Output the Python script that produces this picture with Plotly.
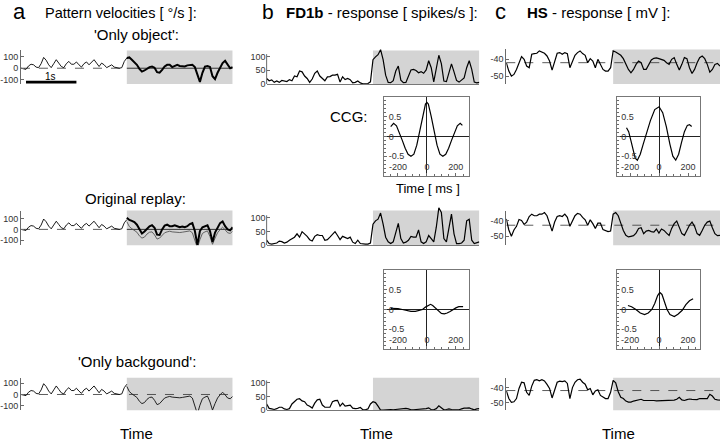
import numpy as np
import plotly.graph_objects as go

W, H = 720, 443
FONT = "Liberation Sans, Arial, sans-serif"

# ---------------- data ----------------
t_pre = np.round(np.arange(0, 2.1001, 0.05), 3)      # before switch
t_post = np.round(np.arange(2.1, 4.2001, 0.05), 3)   # after switch (grey)
t_full = np.round(np.arange(0, 4.2001, 0.05), 3)
t_switch, t_end = 2.1, 4.2

# Pattern velocities (deg/s)
a_pre = [0, -5, -10, 20, 35, 30, 10, 5, 40, 95, 70, 30, 5, 40, 75, 45, 15, 5, 40, 60,
         35, 35, 55, 30, 10, 40, 55, 30, 50, 75, 45, 15, 45, 30, 5, 20, 30, 10, 5, 0,
         5, 60, 90]
a_obj_top = [90, 95, 75, 55, 30, -5, -30, -20, -5, 10, 15, 5, -35, -40, -15, 15, 30, 30, 10, 20,
             30, 20, 15, 15, 25, 30, 30, 10, -60, -120, -40, 15, 20, 10, -70, -95, -40, 10, 45, 65,
             35, 0, 10]
a_obj_mid = [107, 87, 78, 67, 43, 0, -38, -20, 9, 29, 38, 15, -49, -52, 0, 35, 43, 29, 29, 38,
             29, 20, 26, 20, 29, 49, 58, -15, -145, -15, 20, 29, 38, -15, -116, -29, 20, 58, 73, 29,
             0, -9, 20]
a_bg = [71, 26, 6, -9, -26, -60, -80, -71, -43, -26, -23, -51, -89, -80, -51, -31, -23, -17, -23, -26,
        -29, -29, -26, -23, -17, -14, -31, -94, -171, -94, -37, -23, -14, -66, -137, -80, -31, -3, 20, -3,
        -31, -37, -17]

# FD1b response (spikes/s)
b_top = [20, 12, 15, 6, 11, 6, 13, 11, 9, 16, 12, 29, 26, 47, 44, 29, 20, 6, 18, 39,
         47, 29, 21, 12, 26, 27, 32, 32, 35, 7, 26, 16, 20, 16, 4, 6, 11, 4, 1, 1,
         2, 8, 88, 98, 106, 124, 88, 32, 6, 5, 12, 47, 65, 14, 5, 6, 29, 51, 53, 49,
         41, 45, 39, 51, 84, 59, 8, 59, 104, 74, 11, 9, 39, 73, 44, 13, 7, 13, 22, 59,
         84, 53, 7, 4, 6]
b_mid = [18, 6, 4, 6, 8, 15, 13, 8, 11, 18, 25, 29, 41, 29, 49, 41, 32, 20, 15, 32,
         38, 35, 35, 18, 20, 29, 41, 49, 35, 20, 32, 27, 24, 29, 11, 6, 18, 6, 4, 4,
         4, 8, 76, 88, 94, 116, 76, 29, 12, 6, 12, 51, 79, 24, 8, 11, 18, 32, 29, 29,
         55, 12, 6, 12, 35, 24, 12, 65, 135, 118, 24, 12, 59, 112, 41, 6, 6, 8, 18, 88,
         94, 18, 6, 8, 12]
b_bot = [23, 7, 5, 3, 6, 11, 11, 5, 3, 6, 23, 31, 40, 42, 34, 31, 19, 15, 8, 26,
         38, 40, 19, 11, 11, 11, 31, 35, 36, 15, 26, 15, 17, 19, 8, 6, 7, 10, 2, 2,
         5, 23, 31, 28, 15, 1, 1, 2, 3, 3, 2, 3, 5, 6, 7, 7, 5, 2, 2, 3,
         2, 3, 5, 6, 9, 2, 2, 6, 16, 8, 2, 3, 5, 3, 2, 2, 2, 5, 8, 8,
         9, 5, 2, 5, 6]

# HS response (mV)
c_top = [-42, -47, -50, -49, -46, -41.6, -38.4, -40, -44, -45, -37, -36.6, -36.4, -35, -35.6, -36.4, -38, -41, -46.4, -41,
         -36.4, -36, -37, -36, -36.6, -45, -41, -37.6, -36, -35, -36.6, -37.6, -42, -39.6, -41, -45, -40, -43, -46, -47,
         -47, -45, -35, -35.6, -36.4, -37.6, -39.6, -43, -46, -48, -46, -43, -41, -42, -46, -46, -43, -40.4, -39.4, -39.2,
         -39.6, -40, -40.6, -42, -43, -40, -39, -43, -46.4, -43, -39, -39.6, -45, -48.4, -46, -42, -39, -38, -39.6, -43,
         -47.6, -46, -43, -42.4, -44]
c_mid = [-39, -46, -50, -46, -43.7, -39.4, -40, -42.5, -41, -37.5, -36, -37, -37, -36, -36, -35, -37, -42, -46.7, -41,
         -37.5, -37, -37.5, -36, -38, -43.7, -40, -37, -35.5, -36, -38, -39.6, -43, -39.6, -42, -45, -41.7, -41.7, -45.8, -46.3,
         -47, -46.7, -36, -35, -37, -41.7, -46.3, -49.4, -50.4, -50, -49.6, -48, -45, -44.6, -48.3, -46.7, -46.3, -47, -47.3, -45.4,
         -48, -45.4, -46.3, -48, -49.4, -45, -42, -40.4, -44, -48.3, -49.4, -46.3, -43, -41, -43.7, -48.3, -49.4, -46.3, -43, -41,
         -40.4, -44.6, -48.3, -49.6, -49.4]
c_bot = [-42.1, -47.4, -50, -49.6, -47.4, -40.6, -36.4, -36.8, -43.2, -45.3, -39, -35.1, -34.7, -35.5, -34.7, -35.5, -37.9, -40.6, -47, -41.5,
         -36.4, -35.7, -36, -35.5, -37.2, -47.4, -40, -36.4, -34.7, -34.3, -36.4, -37.7, -41.5, -40.6, -44.9, -42.3, -41.5, -45.3, -46.6, -47.4,
         -47.4, -43.2, -35.1, -36.8, -42.8, -46.6, -47.4, -49.1, -49.8, -49.8, -49.1, -48.7, -48.3, -47.9, -48.7, -48.7, -48.3, -48.5, -48.7, -48.9,
         -48.9, -48.9, -48.9, -48.9, -48.9, -48.7, -48.5, -47.9, -46.6, -48.3, -48.7, -48.1, -47.7, -47.9, -47.9, -48.1, -47.4, -47.2, -47.4, -47.4,
         -44.5, -45.7, -47.9, -48.3, -48.5]
c_rest = [-42, -43, -42]

# Cross-correlograms (lag in ms, coefficient)
ccg_b1_lag = [-250, -230, -210, -190, -170, -150, -130, -110, -90, -70, -50, -30, -10, 0,
              10, 30, 50, 70, 90, 110, 130, 150, 170, 190, 210, 230, 245]
ccg_b1_val = [0.25, 0.33, 0.27, 0.1, -0.1, -0.3, -0.45, -0.5, -0.45, -0.22, 0.12, 0.5, 0.82, 0.86,
              0.82, 0.5, 0.12, -0.22, -0.45, -0.5, -0.45, -0.3, -0.1, 0.1, 0.27, 0.33, 0.28]
ccg_b2_lag = [-250, -230, -200, -170, -140, -110, -80, -50, -30, -10, 10, 25, 40, 60,
              80, 100, 120, 140, 160, 180, 200, 220, 240, 250]
ccg_b2_val = [0.03, 0.03, 0.02, 0.0, -0.03, -0.05, -0.05, -0.03, 0.0, 0.06, 0.11, 0.13, 0.1, 0.03,
              -0.05, -0.1, -0.11, -0.09, -0.05, 0.0, 0.04, 0.07, 0.08, 0.07]
ccg_c1_lag = [-225, -210, -195, -180, -165, -150, -130, -110, -90, -60, -30, 0, 25, 50,
              75, 95, 115, 135, 155, 175, 195, 210, 225]
ccg_c1_val = [0.22, 0.12, -0.1, -0.35, -0.55, -0.6, -0.45, -0.2, 0.05, 0.4, 0.68, 0.75, 0.6, 0.25,
              -0.2, -0.5, -0.6, -0.45, -0.15, 0.12, 0.28, 0.3, 0.25]
ccg_c2_lag = [-215, -190, -160, -130, -100, -75, -50, -30, -10, 5, 20, 40, 55, 75,
              105, 130, 160, 185, 210, 235]
ccg_c2_val = [0.1, 0.07, 0.0, -0.09, -0.13, -0.09, 0.0, 0.15, 0.35, 0.43, 0.38, 0.15, 0.0, -0.13,
              -0.18, -0.12, -0.02, 0.12, 0.22, 0.27]

# ---------------- layout helpers ----------------
layout = dict(width=W, height=H, margin=dict(l=0, r=0, t=0, b=0),
              paper_bgcolor="white", plot_bgcolor="white", showlegend=False,
              font=dict(family=FONT, color="black"))
shapes, annotations, traces = [], [], []
AX = "#6a6a6a"
TICKF = dict(family=FONT, size=9, color="#333")


def nm(n):
    return "" if n == 1 else str(n)


def add_axes(n, xpx, ypx, xr, yr, xkw, ykw):
    xa = dict(domain=[xpx[0] / W, xpx[1] / W], range=xr, anchor="y" + nm(n),
              showgrid=False, zeroline=False, fixedrange=True)
    xa.update(xkw)
    ya = dict(domain=[1 - ypx[1] / H, 1 - ypx[0] / H], range=yr, anchor="x" + nm(n),
              showgrid=False, zeroline=False, fixedrange=True)
    ya.update(ykw)
    layout["xaxis" + nm(n)] = xa
    layout["yaxis" + nm(n)] = ya


def line(n, x, y, color="black", width=1.0, dash=None):
    traces.append(go.Scatter(x=x, y=y, mode="lines", xaxis="x" + nm(n), yaxis="y" + nm(n),
                             line=dict(color=color, width=width, dash=dash),
                             hoverinfo="skip"))


def grey_box(n, y0=None, y1=None):
    if y0 is None:
        shapes.append(dict(type="rect", xref="x" + nm(n), yref="y" + nm(n) + " domain",
                           x0=t_switch, x1=t_end, y0=0, y1=1, fillcolor="#d4d4d4",
                           line=dict(width=0), layer="below"))
    else:
        shapes.append(dict(type="rect", xref="x" + nm(n), yref="y" + nm(n),
                           x0=t_switch, x1=t_end, y0=y0, y1=y1, fillcolor="#d4d4d4",
                           line=dict(width=0), layer="below"))


def text(s, x, y, size=15, anchor="center", **kw):
    annotations.append(dict(text=s, x=x / W, y=1 - y / H, xref="paper", yref="paper",
                            xanchor=anchor, yanchor="middle", showarrow=False,
                            font=dict(family=FONT, size=size, color="black"), **kw))


hidden_x = dict(visible=False)
ts_y = dict(ticks="inside", ticklen=3, tickcolor=AX, showline=True, linecolor=AX,
            linewidth=1, tickfont=TICKF)

# ---------------- panel a ----------------
a_rows = [  # (axis n, y px top, y px bottom, zero px, px per unit)
    (1, 51, 85, 69, 0.115),
    (2, 213, 248, 232, 0.11),
    (3, 382, 415, 399, 0.115),
]
for n, y0, y1, z, s in a_rows:
    add_axes(n, (20, 232), (y0, y1), [0, t_end], [-(y1 - z) / s, (z - y0) / s],
             hidden_x, dict(ts_y, tickvals=[-100, 0, 100], ticktext=["-100", "0", "100"]))
    grey_box(n)

# zero lines
line(1, [0, t_switch], [0, 0], "#333", 0.8, "dash")
line(1, [t_switch, t_end], [0, 0], "#222", 0.9)
line(2, [0, t_switch], [0, 0], "#333", 0.8, "dash")
line(2, [t_switch, t_end], [0, 0], "#222", 0.9)
line(3, [0, t_end], [0, 0], "#333", 0.8, "dash")
for n in (1, 2, 3):
    line(n, t_pre, a_pre, "black", 0.9)
line(1, t_post, a_obj_top, "black", 2.0)
line(2, t_post, a_bg, "#555", 0.9)
line(2, t_post, a_obj_mid, "black", 2.0)
line(3, t_post, a_bg, "#222", 1.0)
# 1 s scale bar
line(1, [0.1, 1.1], [-122, -122], "black", 2.6)

# ---------------- panel b ----------------
b_rows = [  # (axis n, y px top of grey, y px bottom (zero), px per unit, series)
    (4, 51, 85, 0.28, b_top),
    (5, 213, 248, 0.28, b_mid),
    (6, 382, 415, 0.28, b_bot),
]
for n, y0, y1, s, ser in b_rows:
    top_px = y0 - 8
    add_axes(n, (266, 479), (top_px, y1), [0, t_end], [0, (y1 - top_px) / s],
             dict(showline=True, linecolor="#777", linewidth=1, showticklabels=False, ticks=""),
             dict(ticks="inside", ticklen=3, tickcolor=AX, showline=False, tickfont=TICKF,
                  tickvals=[0, 50, 100]))
    grey_box(n, 0, (y1 - y0) / s)
    shapes.append(dict(type="line", xref="x" + nm(n) + " domain", yref="y" + nm(n),
                       x0=0, x1=0, y0=0, y1=108, line=dict(color=AX, width=1)))
    line(n, t_full, ser, "black", 1.2)

# ---------------- panel c ----------------
c_rows = [  # (axis n, y top, y bottom, px of -40, px per mV, series, rest)
    (7, 50, 85, 60, 1.7, c_top, c_rest[0]),
    (8, 213, 248, 223, 1.6, c_mid, c_rest[1]),
    (9, 382, 415, 392, 1.5, c_bot, c_rest[2]),
]
for n, y0, y1, p40, s, ser, rest in c_rows:
    add_axes(n, (506, 720), (y0, y1), [0, t_end], [-40 - (y1 - p40) / s, -40 + (p40 - y0) / s],
             hidden_x, dict(ts_y, tickvals=[-50, -40], ticktext=["-50", "-40"]))
    grey_box(n)
    line(n, [0, t_end], [rest, rest], "#333", 0.8, "dash")
    line(n, t_full, ser, "black", 1.2)

# ---------------- CCG insets ----------------
ccg_x = dict(ticks="inside", ticklen=3, tickcolor=AX, showline=True, mirror=True,
             linecolor="#777", linewidth=1, tickvals=[-200, 0, 200],
             ticktext=["-200", "0", "200"], ticklabelposition="inside",
             ticklabeloverflow="allow", tickfont=TICKF,
             minor=dict(ticks="inside", ticklen=2, dtick=50, tickcolor=AX),
             zeroline=True, zerolinecolor="#222", zerolinewidth=1)
ccg_y = dict(ticks="inside", ticklen=3, tickcolor=AX, showline=True, mirror=True,
             linecolor="#777", linewidth=1, tickvals=[-0.5, 0, 0.5],
             ticktext=["-0.5", "0", "0.5"], ticklabelposition="inside",
             ticklabeloverflow="allow", tickfont=TICKF,
             minor=dict(ticks="inside", ticklen=2, dtick=0.1, tickcolor=AX),
             zeroline=True, zerolinecolor="#222", zerolinewidth=1)
ccgs = [  # (axis n, x px, y px, centre px, lags, values)
    (10, (384, 469), (98, 178), 426.5, ccg_b1_lag, ccg_b1_val),
    (11, (384, 469), (273, 353), 426.5, ccg_b2_lag, ccg_b2_val),
    (12, (617, 700), (98, 178), 659, ccg_c1_lag, ccg_c1_val),
    (13, (617, 700), (273, 353), 659, ccg_c2_lag, ccg_c2_val),
]
for n, xp, yp, cx, lag, val in ccgs:
    s = 0.145
    add_axes(n, xp, yp, [-(cx - xp[0]) / s, (xp[1] - cx) / s], [-1, 1], ccg_x, ccg_y)
    line(n, lag, val, "black", 1.2)

# ---------------- texts ----------------
text("a", 19, 12, size=22)
text("Pattern velocities [ °/s ]:", 42, 13, size=14.5, anchor="left")
text("'Only object':", 136, 35)
text("1s", 50, 77, size=10)
text("b", 267, 12, size=21)
text("<b>FD1b</b> - response [ spikes/s ]:", 283, 13, anchor="left")
text("c", 500, 12, size=22)
text("<b>HS</b> - response [ mV ]:", 525, 13, anchor="left")
text("CCG:", 348, 118)
text("Time [ ms ]", 428, 191, size=13)
text("Original replay:", 135, 201)
text("'Only backgound':", 136, 366)
text("Time", 136, 438)
text("Time", 376, 438)
text("Time", 618, 438)

layout["shapes"] = shapes
layout["annotations"] = annotations

fig = go.Figure(data=traces, layout=layout)
fig.write_html("out.html", config={"displayModeBar": False, "staticPlot": True},
               post_script="document.body.style.margin='0';document.body.style.overflow='hidden';")
